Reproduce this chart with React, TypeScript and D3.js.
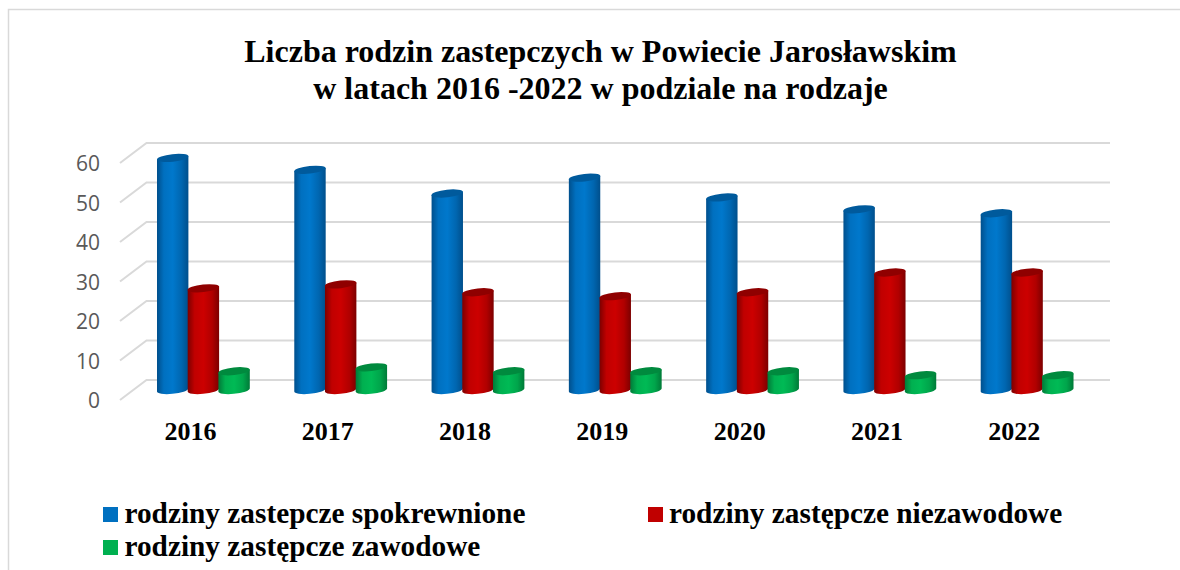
import React from "react";
import * as d3 from "d3";

const years = ["2016", "2017", "2018", "2019", "2020", "2021", "2022"];
const spokrewnione = [59, 56, 50, 54, 49, 46, 45];
const niezawodowe = [26, 27, 25, 24, 25, 30, 30];
const zawodowe = [5, 6, 5, 5, 5, 4, 4];
const yTicks = [0, 10, 20, 30, 40, 50, 60];
const titleLines = [
  "Liczba rodzin zastepczych w Powiecie Jarosławskim",
  "w latach 2016 -2022 w podziale na rodzaje",
];
const seriesNames = [
  "rodziny zastepcze spokrewnione",
  "rodziny zastępcze niezawodowe",
  "rodziny zastępcze zawodowe",
];
const seriesValues = [spokrewnione, niezawodowe, zawodowe];
const seriesIds = ["blue", "red", "green"];
const seriesStyles = [
  { legend: "#0070c0", top: "#005a9c", stops: ["#004f8c", "#0070c0", "#0078cc", "#0066b0", "#004f8c"] },
  { legend: "#c00000", top: "#8f0000", stops: ["#7c0000", "#c00000", "#cc0000", "#b00000", "#7c0000"] },
  { legend: "#00b050", top: "#008a3e", stops: ["#007a38", "#00b050", "#00ba55", "#00a54b", "#007a38"] },
];

const serif = "'Liberation Serif', serif";
const sans = "'Open Sans', sans-serif";

const yBack = d3.scaleLinear().domain([0, 60]).range([380, 143]);
const yFront = d3.scaleLinear().domain([0, 60]).range([400, 163]);
const yBar = d3.scaleLinear().domain([0, 60]).range([391, 154]);
const xGroup = d3.scaleBand().domain(years).range([120, 1081]).paddingInner(0).paddingOuter(0);
const groupOffset = 37;
const barW = 31.4;
const barStep = 30.7;

export default function App() {
  return (
    <svg width={1180} height={570} style={{ position: "absolute", left: 0, top: 0, background: "#fff" }}>
      <defs>
        {seriesStyles.map((s, i) => (
          <linearGradient key={i} id={`grad-${seriesIds[i]}`} x1="0" x2="1" y1="0" y2="0">
            {s.stops.map((c, j) => (
              <stop key={j} offset={`${[0, 22, 50, 78, 100][j]}%`} stopColor={c} />
            ))}
          </linearGradient>
        ))}
      </defs>
      <path d="M8.5 570V9.5H1180" fill="none" stroke="#d9d9d9" strokeWidth={1.5} />
      {titleLines.map((t, i) => (
        <text key={i} x={600.5} y={62 + i * 37} textAnchor="middle" fontFamily={serif} fontWeight="bold" fontSize={32} fill="#000">
          {t}
        </text>
      ))}
      {yTicks.map((v) => (
        <g key={v}>
          <path
            d={`M120 ${yFront(v)}L146.5 ${yBack(v)}H1110`}
            fill="none"
            stroke="#d9d9d9"
            strokeWidth={2}
          />
          <text x={100} y={yFront(v) + 8} textAnchor="end" fontFamily={sans} fontSize={21} fill="#595959">
            {v}
          </text>
        </g>
      ))}
      {years.map((yr, i) => {
        const gx = (xGroup(yr) as number) + groupOffset;
        return (
          <g key={yr}>
            {seriesValues.map((vals, k) => {
              const x0 = gx + k * barStep;
              const cx = x0 + barW / 2;
              const rx = barW / 2;
              const ry = 3.8;
              const top = yBar(vals[i]);
              const bottom = yBar(0) - 1;
              const tilt = 1.5;
              return (
                <g key={k}>
                  <path
                    d={`M${x0} ${top + tilt}L${x0} ${bottom + tilt}A${rx} ${ry} -6 0 0 ${x0 + barW} ${bottom - tilt}L${x0 + barW} ${top - tilt}Z`}
                    fill={`url(#grad-${seriesIds[k]})`}
                  />
                  <ellipse
                    cx={cx}
                    cy={top}
                    rx={rx + 0.2}
                    ry={ry}
                    transform={`rotate(-6 ${cx} ${top})`}
                    fill={seriesStyles[k].top}
                  />
                </g>
              );
            })}
            <text
              x={gx + 33.5}
              y={440}
              textAnchor="middle"
              fontFamily={serif}
              fontWeight="bold"
              fontSize={26}
              fill="#000"
            >
              {yr}
            </text>
          </g>
        );
      })}
      {[
        { x: 103, y: 507, tx: 124.5, ty: 523 },
        { x: 648, y: 507, tx: 669, ty: 523 },
        { x: 103, y: 540, tx: 124.5, ty: 556 },
      ].map((p, i) => (
        <g key={i}>
          <rect x={p.x} y={p.y} width={15} height={15} fill={seriesStyles[i].legend} />
          <text x={p.tx} y={p.ty} fontFamily={serif} fontWeight="bold" fontSize={29.3} fill="#000">
            {seriesNames[i]}
          </text>
        </g>
      ))}
    </svg>
  );
}
